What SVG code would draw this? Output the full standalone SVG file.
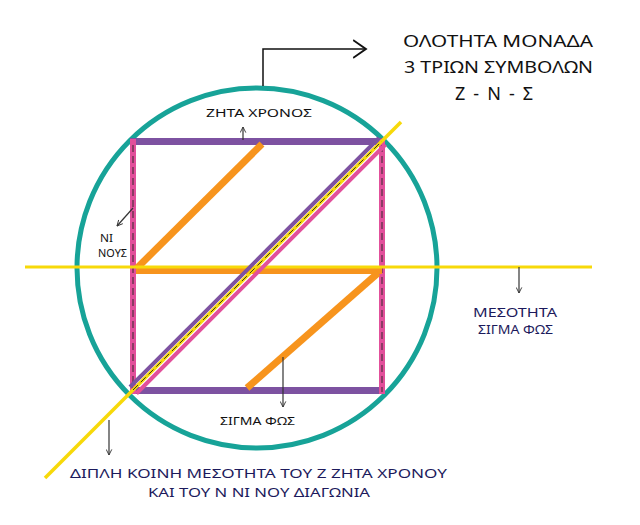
<svg xmlns="http://www.w3.org/2000/svg" width="640" height="525" viewBox="0 0 640 525">
<style>
text{font-family:"Noto Sans","DejaVu Sans",sans-serif;}
.blk{fill:#111;}
.nav{fill:#1c1a5c;}
.arr{stroke:#333;stroke-width:1.2;fill:none;marker-end:url(#ah);}
.dash{stroke:#222;stroke-width:0.9;stroke-dasharray:7 4;fill:none;}
</style>
<defs>
<marker id="ah" viewBox="0 0 10 10" refX="9" refY="5" markerWidth="7" markerHeight="7" orient="auto" markerUnits="userSpaceOnUse">
<path d="M1,1 L9,5 L1,9" fill="none" stroke="#333" stroke-width="1.3"/>
</marker>
<marker id="ahbig" viewBox="0 0 10 10" refX="9" refY="5" markerWidth="16" markerHeight="22" orient="auto" markerUnits="userSpaceOnUse" preserveAspectRatio="none">
<path d="M1,1 L9,5 L1,9" fill="none" stroke="#111" stroke-width="0.9"/>
</marker>
</defs>
<rect width="640" height="525" fill="#fff"/>

<g id="circle">
<circle cx="257" cy="268" r="180" fill="none" stroke="#17a398" stroke-width="5"/>
</g>

<g id="square">
<line x1="130" y1="141.5" x2="385" y2="141.5" stroke="#7d52a1" stroke-width="7"/>
<line x1="130" y1="390.5" x2="385" y2="390.5" stroke="#7d52a1" stroke-width="7"/>
<line x1="133" y1="139" x2="133" y2="394" stroke="#e2509b" stroke-width="6"/>
<line x1="382" y1="139" x2="382" y2="394" stroke="#e2509b" stroke-width="6"/>
<line class="dash" x1="133" y1="145" x2="133" y2="392"/>
<line class="dash" x1="382" y1="145" x2="382" y2="392"/>
</g>

<g id="orange">
<line x1="136" y1="271" x2="382" y2="271" stroke="#f7941d" stroke-width="6"/>
<line x1="137" y1="268" x2="262" y2="144" stroke="#f7941d" stroke-width="7"/>
<line x1="247" y1="388" x2="378" y2="273" stroke="#f7941d" stroke-width="7"/>
</g>

<g id="yellow-horizontal">
<line x1="25" y1="267" x2="592" y2="267" stroke="#f7d90a" stroke-width="3"/>
</g>

<g id="diagonal">
<line x1="130" y1="387" x2="379" y2="138" stroke="#7d52a1" stroke-width="4"/>
<line x1="136.5" y1="393.5" x2="385.5" y2="144.5" stroke="#e2509b" stroke-width="4"/>
<line x1="45" y1="478" x2="401" y2="122" stroke="#f7d90a" stroke-width="3.5"/>
<line class="dash" x1="133" y1="390" x2="382" y2="141"/>
</g>

<g id="connectors">
<path d="M263,86 V49 H366" fill="none" stroke="#111" stroke-width="1.5" marker-end="url(#ahbig)"/>
<line class="arr" x1="243" y1="140" x2="243" y2="127"/>
<line class="arr" x1="133" y1="208" x2="117" y2="226"/>
<line class="arr" x1="519" y1="267" x2="519" y2="293"/>
<line class="arr" x1="283" y1="357" x2="283" y2="407"/>
<line class="arr" x1="109" y1="420" x2="109" y2="455"/>
</g>

<g id="title">
<text class="blk" x="403" y="47" font-size="16" textLength="190" lengthAdjust="spacingAndGlyphs">ΟΛΟΤΗΤΑ ΜΟΝΑΔΑ</text>
<text class="blk" x="404" y="73" font-size="16" textLength="189" lengthAdjust="spacingAndGlyphs">3 ΤΡΙΩΝ ΣΥΜΒΟΛΩΝ</text>
<text class="blk" x="455" y="100" font-size="18" textLength="78" lengthAdjust="spacing">Ζ-Ν-Σ</text>
</g>

<g id="zita-chronos">
<text class="blk" x="206" y="117" font-size="11" textLength="106" lengthAdjust="spacingAndGlyphs">ΖΗΤΑ ΧΡΟΝΟΣ</text>
</g>

<g id="ni-nous">
<text class="blk" x="100" y="242" font-size="11.5" textLength="13" lengthAdjust="spacingAndGlyphs">ΝΙ</text>
<text class="blk" x="98" y="257" font-size="11.5" textLength="29" lengthAdjust="spacingAndGlyphs">ΝΟΥΣ</text>
</g>

<g id="mesotita-sigma">
<text class="nav" x="473" y="317" font-size="13" textLength="84" lengthAdjust="spacingAndGlyphs">ΜΕΣΟΤΗΤΑ</text>
<text class="nav" x="478" y="334" font-size="13" textLength="75" lengthAdjust="spacingAndGlyphs">ΣΙΓΜΑ ΦΩΣ</text>
</g>

<g id="sigma-fos">
<text class="blk" x="220" y="425" font-size="11.5" textLength="75" lengthAdjust="spacingAndGlyphs">ΣΙΓΜΑ ΦΩΣ</text>
</g>

<g id="bottom-label">
<text class="nav" x="70" y="478" font-size="13" textLength="377" lengthAdjust="spacingAndGlyphs">ΔΙΠΛΗ ΚΟΙΝΗ ΜΕΣΟΤΗΤΑ ΤΟΥ Ζ ΖΗΤΑ ΧΡΟΝΟΥ</text>
<text class="nav" x="148" y="497" font-size="13" textLength="222" lengthAdjust="spacingAndGlyphs">ΚΑΙ ΤΟΥ Ν ΝΙ ΝΟΥ ΔΙΑΓΩΝΙΑ</text>
</g>
</svg>
